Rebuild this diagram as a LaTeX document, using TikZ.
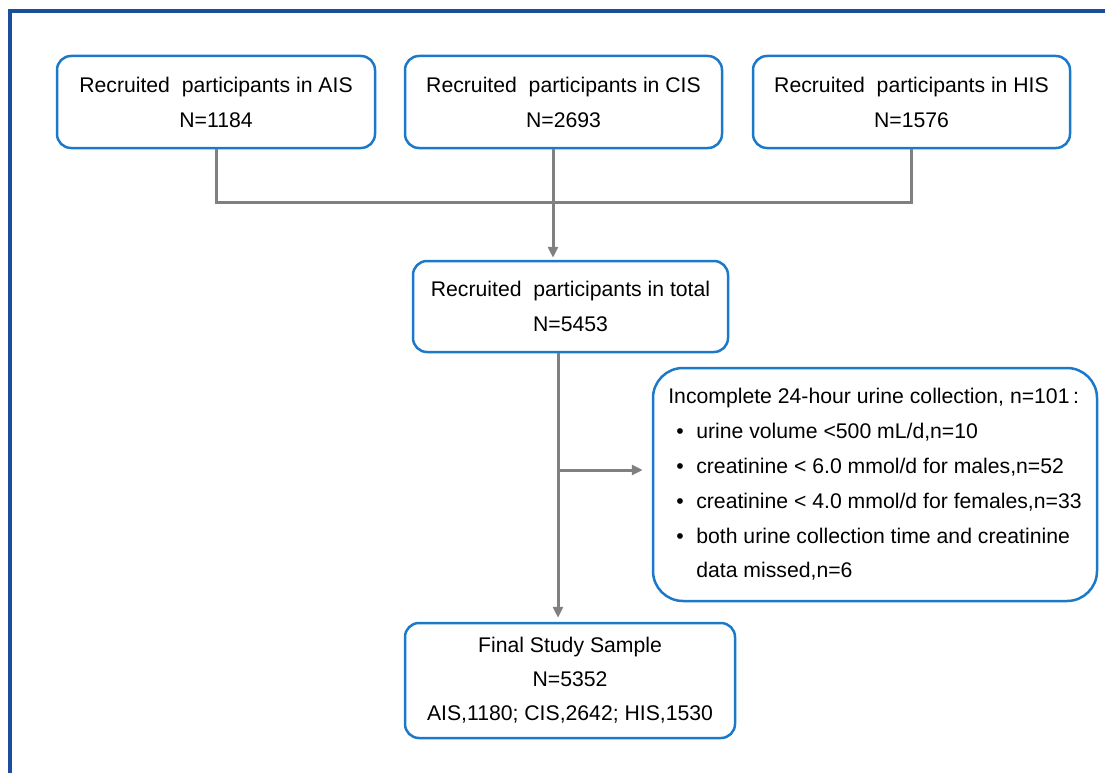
\documentclass[tikz,border=0pt]{standalone}
\usepackage{fontspec}
\setmainfont{Liberation Sans}
\usetikzlibrary{arrows.meta}
\definecolor{boxblue}{RGB}{28,120,200}
\definecolor{frameblue}{RGB}{28,78,158}
\definecolor{linegray}{RGB}{128,128,128}
\begin{document}
\begin{tikzpicture}[x=1pt,y=-1pt,
  box/.style={draw=boxblue,line width=2.5pt,rounded corners=14pt,fill=white,align=center,inner sep=0pt,font=\fontsize{21.2}{35}\selectfont,text=black},
  conn/.style={draw=linegray,line width=3pt},
  arr/.style={conn,-{Triangle[length=11pt,width=10pt]}}]
\useasboundingbox (0,0) rectangle (1105,773);
% frame (cropped at right and bottom)
\coordinate (fbl) at (10,775);
\coordinate (ftl) at (10,11);
\coordinate (ftr) at (1107,11);
\draw[frameblue,line width=3.5pt] (fbl) -- (ftl) -- (ftr);

% boxes
\node[box,minimum width=318pt,minimum height=92pt] (ais) at (216,102) {Recruited~ participants in AIS\\N=1184};
\node[box,minimum width=317pt,minimum height=92pt] (cis) at (563.5,102) {Recruited~ participants in CIS\\N=2693};
\node[box,minimum width=317pt,minimum height=92pt] (his) at (911.5,102) {Recruited~ participants in HIS\\N=1576};
\node[box,minimum width=315pt,minimum height=91pt] (total) at (570.5,306.5) {Recruited~ participants in total\\N=5453};
\node[box,align=flush left,minimum width=444pt,minimum height=233pt,rounded corners=30pt,font=\fontsize{21.2}{34.8}\selectfont] (excl) at (875,484.5)
 {Incomplete 24-hour urine collection, n=101\,:\\
  \hspace*{8pt}\makebox[20pt][l]{•}urine volume <500 mL/d,n=10\\
  \hspace*{8pt}\makebox[20pt][l]{•}creatinine < 6.0 mmol/d for males,n=52\\
  \hspace*{8pt}\makebox[20pt][l]{•}creatinine < 4.0 mmol/d for females,n=33\\
  \hspace*{8pt}\makebox[20pt][l]{•}both urine collection time and creatinine\\
  \hspace*{8pt}\makebox[20pt][l]{}data missed,n=6};
\node[box,minimum width=330pt,minimum height=115pt,font=\fontsize{21.2}{34}\selectfont] (final) at (570,680.5) {Final Study Sample\\N=5352\\AIS,1180; CIS,2642; HIS,1530};

% connectors
\coordinate (j) at (553,202);
\coordinate (k) at (558,470);
\draw[conn] (ais.south) |- (j) -| (his.south);
\draw[arr,shorten >=2pt] (j |- cis.south) -- (j |- total.north);
\draw[arr,shorten >=4pt] (k |- total.south) -- (k |- final.north);
\draw[arr,shorten >=9pt] (k) -- (excl.west |- k);
\end{tikzpicture}
\end{document}
